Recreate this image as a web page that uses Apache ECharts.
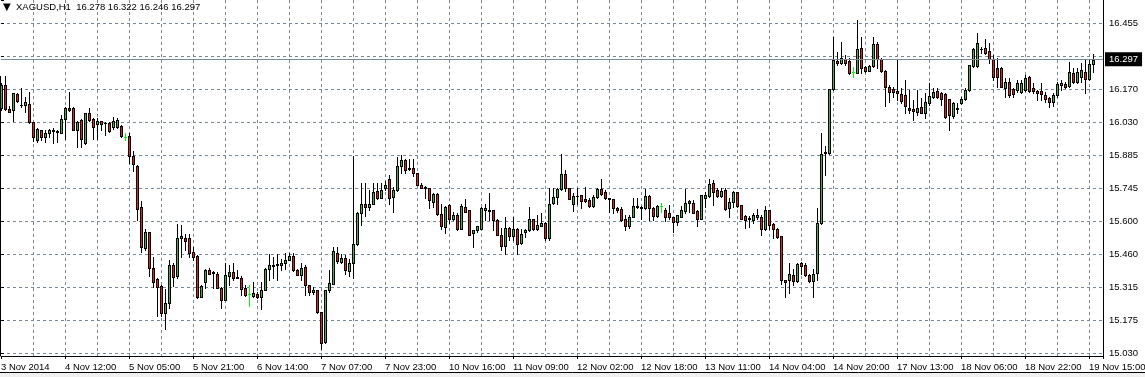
<!DOCTYPE html>
<html><head><meta charset="utf-8">
<script src="https://cdn.jsdelivr.net/npm/echarts@6/dist/echarts.min.js"></script>
<style>html,body{margin:0;padding:0;background:#fff;overflow:hidden}#c{width:1145px;height:377px}</style>
</head><body><div id="c"></div>
<script>
const SYMBOL = 'XAGUSD,H1';
const TIME_LABELS = ['3 Nov 2014','4 Nov 12:00','5 Nov 05:00','5 Nov 21:00','6 Nov 14:00','7 Nov 07:00','7 Nov 23:00','10 Nov 16:00','11 Nov 09:00','12 Nov 02:00','12 Nov 18:00','13 Nov 11:00','14 Nov 04:00','14 Nov 20:00','17 Nov 13:00','18 Nov 06:00','18 Nov 22:00','19 Nov 15:00'];
const PRICE_LABELS = ['15.030','15.175','15.315','15.460','15.600','15.745','15.885','16.030','16.170','16.315','16.455'];
const LAST_PRICE = 16.297;

const OPEN = [16.087,16.188,16.084,16.080,16.149,16.104,16.102,16.105,16.027,15.950,15.994,15.962,15.979,15.994,15.989,15.982,16.040,16.087,16.090,15.994,16.037,15.936,16.066,16.041,16.018,16.033,16.025,16.025,16.005,16.005,16.011,15.965,
15.968,15.881,15.838,15.659,15.484,15.551,15.399,15.349,15.319,15.203,15.244,15.412,15.362,15.525,15.529,15.529,15.467,15.448,15.272,15.337,15.388,15.378,15.373,15.313,15.261,15.362,15.378,15.359,15.353,15.311,15.283,15.277,15.287,15.270,15.304,15.395,15.406,15.413,15.412,15.421,15.434,15.448,15.388,15.369,15.402,15.323,15.294,15.304,15.207,15.078,15.301,15.330,15.464,15.424,15.441,15.385,15.417,15.499,15.637,15.672,15.659,15.676,15.730,15.701,15.741,15.780,15.705,15.734,15.838,15.864,15.831,15.828,15.809,15.758,15.746,15.741,15.683,15.717,15.629,15.575,15.669,15.608,15.626,15.568,15.659,15.647,15.549,15.561,15.568,15.647,15.646,15.647,15.607,15.542,15.492,15.572,15.535,15.568,15.506,15.551,15.561,15.608,15.568,15.581,15.593,15.525,15.679,15.705,15.737,15.803,15.741,15.672,15.710,15.712,15.695,15.691,15.666,15.705,15.737,15.727,15.698,15.695,15.655,15.652,15.608,15.578,15.619,15.666,15.659,15.655,15.709,15.655,15.623,15.665,15.650,15.637,15.616,15.597,15.619,15.644,15.680,15.680,15.643,15.611,15.702,15.708,15.763,15.734,15.709,15.734,15.655,15.683,15.724,15.668,15.621,15.613,15.607,15.616,15.619,15.564,15.647,15.587,15.568,15.535,15.344,15.344,15.366,15.342,15.420,15.409,15.366,15.340,15.376,15.590,15.893,15.893,16.169,16.292,16.282,16.299,16.292,16.246,16.242,16.347,16.267,16.250,16.270,16.366,16.299,16.249,16.178,16.171,16.162,16.148,16.145,16.090,16.086,16.073,16.094,16.068,16.109,16.138,16.164,16.152,16.149,16.126,16.054,16.090,16.109,16.126,16.167,16.270,16.272,16.345,16.350,16.335,16.299,16.263,16.260,16.174,16.203,16.169,16.167,16.159,16.167,16.221,16.174,16.164,16.162,16.145,16.133,16.116,16.145,16.187,16.192,16.184,16.239,16.203,16.224,16.246,16.213,16.278];
const HIGH = [16.195,16.227,16.097,16.155,16.155,16.174,16.138,16.159,16.030,16.001,15.994,15.994,15.997,16.001,15.994,16.059,16.095,16.159,16.092,16.033,16.040,16.069,16.088,16.044,16.044,16.034,16.029,16.029,16.051,16.044,16.015,15.979,
15.979,15.903,15.842,15.686,15.568,15.551,15.443,15.352,15.323,15.308,15.431,15.419,15.587,15.582,15.546,15.543,15.489,15.453,15.323,15.395,15.399,15.385,15.380,15.316,15.421,15.409,15.421,15.388,15.362,15.323,15.323,15.337,15.295,15.337,15.399,15.457,15.443,15.460,15.435,15.463,15.463,15.463,15.395,15.417,15.409,15.323,15.316,15.304,15.207,15.303,15.388,15.489,15.486,15.460,15.453,15.438,15.881,15.640,15.763,15.763,15.734,15.766,15.763,15.763,15.774,15.799,15.748,15.878,15.885,15.867,15.867,15.867,15.809,15.766,15.751,15.745,15.720,15.720,15.676,15.665,15.676,15.640,15.633,15.673,15.695,15.647,15.561,15.578,15.659,15.676,15.720,15.647,15.611,15.572,15.616,15.575,15.616,15.572,15.568,15.568,15.662,15.611,15.626,15.633,15.597,15.741,15.741,15.741,15.890,15.820,15.741,15.722,15.741,15.712,15.748,15.698,15.712,15.741,15.782,15.734,15.699,15.695,15.659,15.662,15.626,15.626,15.698,15.698,15.665,15.738,15.712,15.662,15.669,15.679,15.655,15.669,15.619,15.626,15.665,15.737,15.691,15.691,15.647,15.715,15.727,15.780,15.777,15.741,15.741,15.741,15.698,15.731,15.727,15.669,15.626,15.623,15.633,15.652,15.626,15.665,15.647,15.593,15.572,15.535,15.344,15.417,15.395,15.420,15.424,15.417,15.373,15.395,15.655,15.979,15.924,16.172,16.397,16.332,16.376,16.318,16.304,16.268,16.469,16.394,16.270,16.275,16.397,16.376,16.304,16.253,16.188,16.178,16.299,16.174,16.210,16.167,16.123,16.167,16.131,16.152,16.198,16.174,16.174,16.159,16.152,16.129,16.116,16.109,16.138,16.174,16.276,16.347,16.415,16.354,16.386,16.371,16.318,16.304,16.268,16.217,16.217,16.174,16.210,16.210,16.231,16.227,16.195,16.167,16.198,16.159,16.138,16.152,16.203,16.210,16.203,16.289,16.260,16.260,16.282,16.296,16.296,16.322];
const LOW = [16.080,16.080,16.070,16.034,16.116,16.092,16.073,16.022,15.947,15.943,15.950,15.943,15.965,15.936,15.943,15.979,15.953,16.077,15.994,15.921,15.921,15.933,16.034,15.953,15.953,15.994,15.972,15.987,16.000,16.001,15.965,15.950,
15.852,15.818,15.604,15.467,15.474,15.362,15.316,15.190,15.190,15.135,15.226,15.319,15.352,15.445,15.477,15.445,15.434,15.268,15.270,15.313,15.370,15.313,15.310,15.226,15.258,15.326,15.347,15.352,15.280,15.277,15.233,15.272,15.268,15.222,15.301,15.344,15.352,15.347,15.388,15.395,15.431,15.385,15.366,15.344,15.280,15.280,15.284,15.205,15.046,15.075,15.294,15.327,15.417,15.417,15.373,15.363,15.356,15.496,15.582,15.621,15.647,15.672,15.694,15.698,15.734,15.676,15.640,15.731,15.809,15.809,15.820,15.795,15.756,15.741,15.698,15.655,15.662,15.626,15.568,15.549,15.590,15.604,15.561,15.565,15.640,15.539,15.489,15.553,15.565,15.604,15.604,15.561,15.539,15.474,15.460,15.520,15.518,15.460,15.503,15.532,15.558,15.561,15.561,15.578,15.518,15.518,15.676,15.676,15.734,15.731,15.694,15.645,15.676,15.655,15.683,15.662,15.662,15.698,15.712,15.695,15.640,15.633,15.640,15.601,15.561,15.572,15.616,15.655,15.611,15.652,15.607,15.604,15.616,15.640,15.601,15.611,15.554,15.582,15.616,15.633,15.640,15.633,15.580,15.608,15.662,15.705,15.669,15.705,15.705,15.647,15.619,15.662,15.662,15.608,15.572,15.575,15.590,15.611,15.539,15.561,15.564,15.529,15.529,15.330,15.270,15.291,15.323,15.337,15.373,15.363,15.337,15.270,15.344,15.587,15.799,15.890,16.167,16.275,16.279,16.275,16.236,16.224,16.239,16.242,16.246,16.249,16.267,16.260,16.246,16.097,16.116,16.138,16.123,16.109,16.066,16.069,16.037,16.058,16.066,16.044,16.102,16.131,16.131,16.102,16.044,15.993,16.044,16.069,16.106,16.123,16.164,16.267,16.267,16.325,16.322,16.282,16.210,16.181,16.178,16.138,16.138,16.138,16.159,16.152,16.162,16.159,16.152,16.123,16.123,16.116,16.092,16.097,16.138,16.167,16.174,16.181,16.195,16.195,16.203,16.155,16.210,16.246];
const CLOSE = [16.188,16.083,16.073,16.152,16.120,16.101,16.113,16.029,15.965,15.997,15.965,15.982,15.994,15.990,15.987,16.041,16.091,16.080,15.994,16.030,15.953,16.066,16.037,16.008,16.033,16.018,16.022,15.989,16.033,16.037,15.968,15.965,
15.881,15.845,15.653,15.489,15.551,15.399,15.337,15.316,15.203,15.244,15.412,15.359,15.525,15.536,15.515,15.464,15.445,15.272,15.319,15.388,15.373,15.376,15.313,15.261,15.365,15.378,15.356,15.356,15.308,15.280,15.283,15.290,15.272,15.304,15.392,15.409,15.412,15.410,15.421,15.431,15.448,15.388,15.369,15.398,15.323,15.294,15.304,15.207,15.073,15.301,15.333,15.470,15.428,15.441,15.388,15.417,15.499,15.637,15.676,15.659,15.672,15.724,15.698,15.734,15.756,15.702,15.734,15.838,15.864,15.823,15.824,15.809,15.758,15.745,15.744,15.691,15.717,15.629,15.578,15.662,15.611,15.626,15.565,15.665,15.640,15.542,15.561,15.578,15.655,15.657,15.644,15.607,15.539,15.492,15.572,15.535,15.564,15.500,15.546,15.561,15.608,15.568,15.582,15.593,15.525,15.676,15.705,15.737,15.803,15.741,15.695,15.710,15.708,15.688,15.688,15.666,15.705,15.737,15.717,15.698,15.695,15.655,15.650,15.607,15.578,15.616,15.666,15.659,15.655,15.709,15.655,15.623,15.666,15.665,15.616,15.616,15.597,15.626,15.647,15.680,15.688,15.637,15.608,15.712,15.712,15.760,15.727,15.709,15.731,15.652,15.683,15.724,15.665,15.611,15.607,15.609,15.626,15.626,15.564,15.647,15.585,15.568,15.532,15.344,15.337,15.370,15.342,15.414,15.406,15.366,15.340,15.373,15.590,15.890,15.897,16.169,16.296,16.282,16.304,16.282,16.239,16.246,16.343,16.263,16.250,16.270,16.366,16.299,16.249,16.178,16.156,16.159,16.154,16.119,16.097,16.080,16.076,16.090,16.068,16.116,16.141,16.159,16.138,16.126,16.051,16.058,16.112,16.083,16.126,16.167,16.275,16.343,16.369,16.343,16.325,16.299,16.221,16.221,16.181,16.203,16.145,16.149,16.195,16.198,16.217,16.164,16.164,16.152,16.148,16.126,16.116,16.145,16.192,16.198,16.181,16.246,16.203,16.246,16.253,16.213,16.279,16.297];

// ---- layout / style constants ----
const FONT = '"Liberation Sans", Arial, sans-serif';
const FS = 9.5;
const PLOT_LEFT = 1, PLOT_RIGHT = 1103, PLOT_TOP = 0, PLOT_BOTTOM = 356;
const BASE_Y = 353.0;      // pixel of first price label
const PX_PER_STEP = 32.97; // pixels between price grid lines
const PRICE_BASE = 15.030, PRICE_STEP = 0.1425;
const BAR_PX = 4;
const GRID_COLOR = '#778899';
const BULL = '#3cb43c', BEAR = '#e41e1e', DOJI = '#00ff00', EDGE = '#000';

const pxPerPrice = PX_PER_STEP / PRICE_STEP;
const yMin = PRICE_BASE - (PLOT_BOTTOM - BASE_Y) / pxPerPrice;
const yMax = PRICE_BASE + (BASE_Y - PLOT_TOP) / pxPerPrice;
const xMax = (PLOT_RIGHT - PLOT_LEFT) / BAR_PX;
const uMax = (BASE_Y - PLOT_TOP) / PX_PER_STEP;

const candles = OPEN.map((o, i) => [i, o, CLOSE[i], LOW[i], HIGH[i]]);
const n = OPEN.length - 1;
const titleNums = [OPEN[n], HIGH[n], LOW[n], CLOSE[n]].map(v => v.toFixed(3)).join(' ');

// candles drawn with pixel-aligned filled rectangles only (no strokes)
function box(x, y, w, h, fill) {
  return { type: 'rect', shape: { x, y, width: w, height: h }, style: { fill, lineWidth: 0 } };
}
function renderCandle(params, api) {
  const i = api.value(0), o = api.value(1), c = api.value(2), lo = api.value(3), hi = api.value(4);
  const pO = api.coord([i, o]), pC = api.coord([i, c]), pL = api.coord([i, lo]), pH = api.coord([i, hi]);
  const px = Math.floor(pO[0] + 0.01);
  const yTop = Math.round(Math.min(pO[1], pC[1])), yBot = Math.round(Math.max(pO[1], pC[1]));
  const yH = Math.round(pH[1]), yL = Math.round(pL[1]);
  const children = [];
  if (o === c) {
    children.push(box(px, yH, 1, yL - yH + 1, DOJI));
    children.push(box(px - 1, yTop, 3, 1, DOJI));
  } else {
    children.push(box(px, yH, 1, yL - yH + 1, EDGE));
    children.push(box(px - 1, yTop, 3, yBot - yTop + 1, EDGE));
    if (yBot - yTop >= 2) children.push(box(px, yTop + 1, 1, yBot - yTop - 1, c > o ? BULL : BEAR));
  }
  return { type: 'group', children };
}

const chart = echarts.init(document.getElementById('c'), null, { renderer: 'canvas' });
const dash = { color: GRID_COLOR, type: [3, 3], width: 1 };
chart.setOption({
  animation: false,
  backgroundColor: '#fff',
  textStyle: { fontFamily: FONT },
  title: {
    text: '{t|▼}  ' + SYMBOL + '  ' + titleNums,
    left: 3, top: 2, padding: 0,
    textStyle: { fontSize: FS, fontWeight: 'normal', color: '#000', fontFamily: FONT,
      rich: { t: { fontSize: 10, color: '#000', fontFamily: 'DejaVu Sans' } } }
  },
  grid: [
    { left: PLOT_LEFT, top: PLOT_TOP, width: PLOT_RIGHT - PLOT_LEFT, height: PLOT_BOTTOM - PLOT_TOP,
      containLabel: false, outerBoundsMode: 'none' },
    { left: PLOT_LEFT, top: PLOT_TOP, width: PLOT_RIGHT - PLOT_LEFT, height: BASE_Y - PLOT_TOP,
      containLabel: false, outerBoundsMode: 'none' }
  ],
  xAxis: [
    { type: 'value', gridIndex: 0, min: 0, max: xMax, interval: 16,
      axisLine: { show: true, onZero: false, lineStyle: { color: '#000', width: 1 } },
      axisTick: { show: true, length: 3, lineStyle: { color: '#000' } },
      axisLabel: { show: true, align: 'left', margin: 6, fontSize: FS, color: '#000', fontFamily: FONT,
        showMinLabel: true, showMaxLabel: true, hideOverlap: false,
        formatter: v => (Number.isInteger(v) && v % 16 === 0 && TIME_LABELS[v / 16]) ? TIME_LABELS[v / 16] : '' },
      splitLine: { show: true, showMinLine: false, showMaxLine: false, lineStyle: dash },
      minorTick: { show: false, splitNumber: 2 },
      minorSplitLine: { show: true, lineStyle: dash } },
    { type: 'value', gridIndex: 1, min: 0, max: 1, show: false }
  ],
  yAxis: [
    { type: 'value', gridIndex: 0, position: 'right', min: yMin, max: yMax,
      axisLine: { show: true, onZero: false, lineStyle: { color: '#000', width: 1 } },
      axisTick: { show: false }, axisLabel: { show: false }, splitLine: { show: false } },
    { type: 'value', gridIndex: 1, position: 'right', min: 0, max: uMax, interval: 1,
      axisLine: { show: false },
      axisTick: { show: true, length: 3, lineStyle: { color: '#000' } },
      axisLabel: { show: true, margin: 6, fontSize: FS, color: '#000', fontFamily: FONT,
        showMaxLabel: true,
        formatter: v => { const k = Math.round(v); return (Math.abs(v - k) < 1e-6 && PRICE_LABELS[k]) ? PRICE_LABELS[k] : ''; } },
      splitLine: { show: true, showMaxLine: false, lineStyle: dash } }
  ],
  series: [{
    type: 'custom', xAxisIndex: 0, yAxisIndex: 0,
    data: candles, encode: { x: 0, y: [1, 2, 3, 4] },
    renderItem: renderCandle, clip: true, silent: true,
    markLine: {
      silent: true, symbol: ['none', 'none'], animation: false,
      lineStyle: { color: GRID_COLOR, type: 'solid', width: 1 },
      emphasis: { disabled: true },
      label: { show: true, position: 'end', distance: 2, formatter: LAST_PRICE.toFixed(3),
        color: '#fff', backgroundColor: '#000', padding: [2, 4, 2, 4], fontSize: FS, fontFamily: FONT },
      data: [{ yAxis: LAST_PRICE }]
    }
  }],
  graphic: [
    { type: 'line', shape: { x1: 0.5, y1: 76, x2: 0.5, y2: 356 }, style: { stroke: '#000', lineWidth: 1 }, silent: true },
    { type: 'line', shape: { x1: 0, y1: 372.5, x2: 1145, y2: 372.5 }, style: { stroke: '#000', lineWidth: 1 }, silent: true },
    { type: 'rect', shape: { x: 0, y: 373, width: 1145, height: 4 }, style: { fill: '#f0f0f0' }, silent: true }
  ]
});
</script></body></html>
